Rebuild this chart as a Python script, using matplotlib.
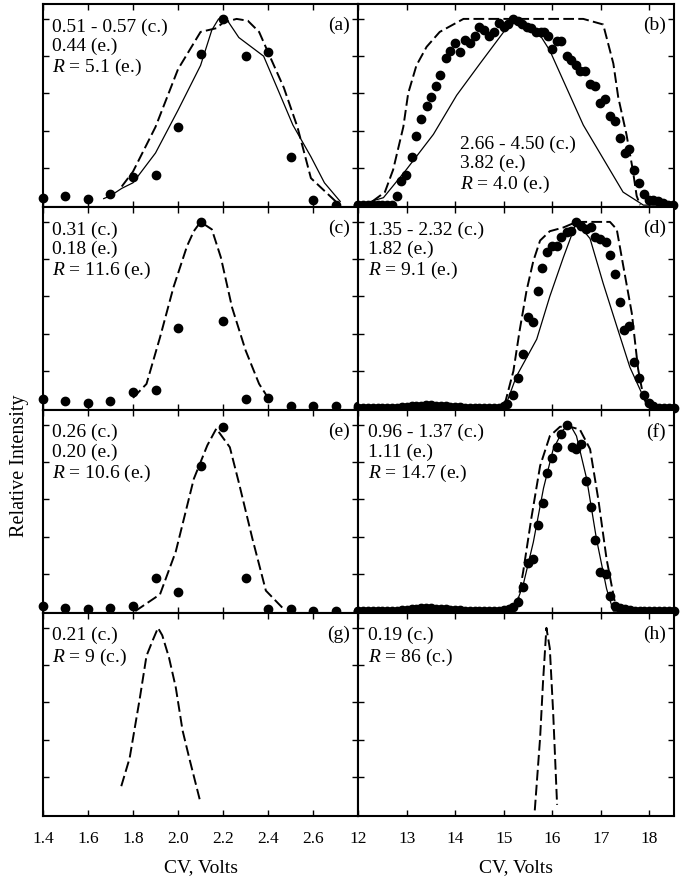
import matplotlib
matplotlib.use("Agg")
import numpy as np
import matplotlib.pyplot as plt

plt.rcParams['font.family'] = ['Liberation Serif', 'DejaVu Serif']
plt.rcParams['mathtext.fontset'] = 'custom'
plt.rcParams['mathtext.rm'] = 'Liberation Serif'
plt.rcParams['mathtext.it'] = 'Liberation Serif:italic'

# ---- panel (a) ----
aDotsX = [1.4, 1.5, 1.6, 1.7, 1.8, 1.9, 2.0, 2.1, 2.2, 2.3, 2.4, 2.5, 2.6, 2.7, 2.8]
aDotsY = [0.04, 0.05, 0.035, 0.06, 0.15, 0.16, 0.42, 0.81, 1.0, 0.80, 0.82, 0.26, 0.03, 0.0, 0.0]
aSolidX = [1.67, 1.7, 1.75, 1.8, 1.9, 2.0, 2.1, 2.15, 2.18, 2.22, 2.27, 2.38, 2.44, 2.51, 2.59, 2.65, 2.72]
aSolidY = [0.035, 0.05, 0.09, 0.12, 0.28, 0.51, 0.75, 0.94, 1.0, 0.99, 0.90, 0.80, 0.63, 0.43, 0.26, 0.12, 0.02]
aDashX = [1.75, 1.8, 1.9, 2.0, 2.1, 2.17, 2.2, 2.26, 2.31, 2.36, 2.4, 2.47, 2.53, 2.59, 2.7]
aDashY = [0.10, 0.18, 0.42, 0.73, 0.93, 0.95, 0.98, 1.0, 0.99, 0.93, 0.82, 0.63, 0.42, 0.145, 0.02]

# ---- panel (b) ----
bDotsX = [12.0, 12.1, 12.2, 12.3, 12.4, 12.5, 12.6, 12.7, 12.79, 12.89, 12.99, 13.1, 13.2, 13.29,
          13.41, 13.5, 13.6, 13.68, 13.81, 13.89, 14.0, 14.1, 14.2, 14.3, 14.4, 14.5, 14.6, 14.7,
          14.8, 14.9, 15.0, 15.09, 15.2, 15.29, 15.37, 15.47, 15.57, 15.66, 15.76, 15.84, 15.92,
          16.0, 16.09, 16.19, 16.3, 16.38, 16.48, 16.57, 16.67, 16.78, 16.88, 16.98, 17.09, 17.19,
          17.29, 17.39, 17.5, 17.59, 17.69, 17.79, 17.89, 18.0, 18.08, 18.19, 18.29, 18.39, 18.49]
bDotsY = [0.0, 0.0, 0.0, 0.0, 0.0, 0.0, 0.0, 0.0, 0.05, 0.13, 0.16, 0.26, 0.37, 0.46,
          0.53, 0.58, 0.64, 0.70, 0.79, 0.83, 0.87, 0.82, 0.885, 0.87, 0.91, 0.955, 0.94, 0.91,
          0.93, 0.98, 0.955, 0.97, 1.0, 0.99, 0.97, 0.955, 0.95, 0.93, 0.93, 0.93, 0.91,
          0.84, 0.88, 0.88, 0.80, 0.78, 0.75, 0.72, 0.72, 0.65, 0.64, 0.55, 0.57, 0.48,
          0.45, 0.36, 0.28, 0.30, 0.19, 0.12, 0.06, 0.03, 0.03, 0.02, 0.01, 0.0, 0.0]
bSolidX = [12.0, 12.52, 12.99, 13.55, 14.03, 14.51, 15.2, 15.78, 15.95, 16.64, 17.46, 17.88, 18.5]
bSolidY = [0.0, 0.04, 0.19, 0.38, 0.59, 0.76, 1.0, 0.90, 0.83, 0.43, 0.07, 0.0, 0.0]
bDashX = [12.0, 12.24, 12.55, 12.72, 12.93, 13.03, 13.2, 13.41, 13.68, 14.1, 14.17, 16.64, 17.05,
          17.26, 17.36, 17.53, 17.66, 17.74, 17.81]
bDashY = [0.0, 0.01, 0.07, 0.19, 0.42, 0.60, 0.75, 0.85, 0.93, 0.99, 1.0, 1.0, 0.97,
          0.76, 0.58, 0.38, 0.19, 0.05, 0.0]

# ---- panel (c) ----
cDotsX = [1.4, 1.5, 1.6, 1.7, 1.8, 1.9, 2.0, 2.1, 2.2, 2.3, 2.4, 2.5, 2.6, 2.7, 2.8]
cDotsY = [0.05, 0.04, 0.025, 0.04, 0.085, 0.10, 0.43, 1.0, 0.47, 0.05, 0.055, 0.01, 0.01, 0.01, 0.01]
cDashX = [1.8, 1.86, 1.92, 1.98, 2.04, 2.07, 2.1, 2.15, 2.19, 2.24, 2.3, 2.36, 2.4]
cDashY = [0.055, 0.13, 0.38, 0.65, 0.87, 0.95, 1.0, 0.96, 0.81, 0.54, 0.31, 0.13, 0.055]

# ---- panel (d) ----
dDotsX = [12.0, 12.1, 12.2, 12.3, 12.4, 12.5, 12.6, 12.7, 12.8, 12.9, 13.0, 13.1, 13.2, 13.3,
          13.4, 13.5, 13.6, 13.7, 13.8, 13.9, 14.0, 14.1, 14.2, 14.3, 14.4, 14.5, 14.6, 14.7,
          14.8, 14.9, 15.0, 15.06, 15.2, 15.3, 15.39, 15.5, 15.6, 15.7, 15.79, 15.9, 16.0, 16.09,
          16.19, 16.3, 16.38, 16.5, 16.59, 16.69, 16.79, 16.89, 16.99, 17.1, 17.2, 17.3, 17.4,
          17.48, 17.59, 17.69, 17.79, 17.89, 18.0, 18.08, 18.2, 18.3, 18.4, 18.5]
dDotsY = [0.0, 0.0, 0.0, 0.0, 0.0, 0.0, 0.0, 0.0, 0.0, 0.005, 0.005, 0.01, 0.01, 0.012,
          0.015, 0.015, 0.012, 0.01, 0.01, 0.008, 0.005, 0.005, 0.003, 0.0, 0.0, 0.0, 0.0, 0.0,
          0.0, 0.0, 0.01, 0.02, 0.07, 0.16, 0.29, 0.49, 0.46, 0.63, 0.75, 0.84, 0.87, 0.87,
          0.92, 0.945, 0.95, 1.0, 0.98, 0.96, 0.97, 0.92, 0.91, 0.89, 0.82, 0.72, 0.57,
          0.42, 0.44, 0.25, 0.16, 0.07, 0.03, 0.01, 0.0, 0.0, 0.0, 0.0]
dSolidX = [12.0, 15.02, 15.26, 15.68, 15.95, 16.23, 16.5, 16.78, 17.05, 17.33, 17.6, 17.81, 17.95, 18.5]
dSolidY = [0.0, 0.0, 0.17, 0.37, 0.60, 0.81, 1.0, 0.91, 0.67, 0.44, 0.22, 0.10, 0.02, 0.0]
dDashX = [15.02, 15.2, 15.33, 15.47, 15.61, 15.75, 15.95, 16.23, 16.5, 17.19, 17.33, 17.46,
          17.64, 17.77, 17.88, 17.95]
dDashY = [0.02, 0.2, 0.42, 0.63, 0.79, 0.90, 0.95, 0.97, 1.0, 1.0, 0.96, 0.77,
          0.51, 0.21, 0.06, 0.02]

# ---- panel (e) ----
eDotsX = [1.4, 1.5, 1.6, 1.7, 1.8, 1.9, 2.0, 2.1, 2.2, 2.3, 2.4, 2.5, 2.6, 2.7, 2.8]
eDotsY = [0.03, 0.015, 0.01, 0.015, 0.03, 0.18, 0.10, 0.78, 0.99, 0.18, 0.01, 0.01, 0.0, 0.0, 0.0]
eDashX = [1.81, 1.92, 1.99, 2.07, 2.13, 2.17, 2.23, 2.27, 2.33, 2.39, 2.47]
eDashY = [0.0, 0.09, 0.32, 0.71, 0.89, 0.98, 0.88, 0.69, 0.39, 0.11, 0.01]

# ---- panel (f) ----
fDotsX = [12.0, 12.1, 12.2, 12.3, 12.4, 12.5, 12.6, 12.7, 12.8, 12.9, 13.0, 13.1, 13.2, 13.3,
          13.4, 13.5, 13.6, 13.7, 13.8, 13.9, 14.0, 14.1, 14.2, 14.3, 14.4, 14.5, 14.6, 14.7,
          14.8, 14.9, 15.0, 15.1, 15.2, 15.3, 15.4, 15.5, 15.6, 15.71, 15.8, 15.9, 16.0, 16.1,
          16.19, 16.3, 16.4, 16.5, 16.59, 16.69, 16.79, 16.89, 16.99, 17.1, 17.2, 17.3, 17.4,
          17.5, 17.6, 17.7, 17.8, 17.9, 18.0, 18.1, 18.2, 18.3, 18.4, 18.5]
fDotsY = [0.0, 0.0, 0.0, 0.0, 0.0, 0.0, 0.0, 0.0, 0.0, 0.005, 0.005, 0.01, 0.012, 0.015,
          0.015, 0.015, 0.012, 0.01, 0.01, 0.008, 0.005, 0.005, 0.003, 0.0, 0.0, 0.0, 0.0, 0.0,
          0.0, 0.0, 0.005, 0.01, 0.02, 0.05, 0.13, 0.26, 0.28, 0.46, 0.58, 0.74, 0.82, 0.88,
          0.95, 1.0, 0.88, 0.87, 0.90, 0.70, 0.56, 0.38, 0.21, 0.20, 0.08, 0.03, 0.015,
          0.01, 0.005, 0.0, 0.0, 0.0, 0.0, 0.0, 0.0, 0.0, 0.0, 0.0]
fSolidX = [12.0, 15.2, 15.4, 15.61, 15.82, 16.02, 16.23, 16.37, 16.5, 16.71, 16.91, 17.12, 17.26, 18.5]
fSolidY = [0.0, 0.0, 0.14, 0.37, 0.66, 0.87, 0.975, 1.0, 0.94, 0.71, 0.39, 0.12, 0.0, 0.0]
fDashX = [15.27, 15.4, 15.57, 15.75, 15.95, 16.16, 16.37, 16.57, 16.78, 16.95, 17.12, 17.3, 17.36]
fDashY = [0.02, 0.21, 0.50, 0.78, 0.94, 0.99, 0.99, 0.975, 0.87, 0.60, 0.28, 0.035, 0.01]

# ---- panel (g) ----
gDashX = [1.748, 1.785, 1.83, 1.86, 1.89, 1.911, 1.93, 1.96, 1.99, 2.02, 2.05, 2.096]
gDashY = [0.15, 0.30, 0.62, 0.85, 0.94, 1.0, 0.96, 0.84, 0.68, 0.45, 0.30, 0.08]

# ---- panel (h) ----
hDashX = [15.64, 15.75, 15.81, 15.88, 15.95, 16.02, 16.1]
hDashY = [0.02, 0.41, 0.71, 1.0, 0.89, 0.54, 0.05]

# annotations
aText = "0.51 - 0.57 (c.)\n0.44 (e.)\n$R$ = 5.1 (e.)"
bText = "2.66 - 4.50 (c.)\n3.82 (e.)\n$R$ = 4.0 (e.)"
cText = "0.31 (c.)\n0.18 (e.)\n$R$ = 11.6 (e.)"
dText = "1.35 - 2.32 (c.)\n1.82 (e.)\n$R$ = 9.1 (e.)"
eText = "0.26 (c.)\n0.20 (e.)\n$R$ = 10.6 (e.)"
fText = "0.96 - 1.37 (c.)\n1.11 (e.)\n$R$ = 14.7 (e.)"
gText = "0.21 (c.)\n$R$ = 9 (c.)"
hText = "0.19 (c.)\n$R$ = 86 (c.)"

leftTicks = [1.4, 1.6, 1.8, 2.0, 2.2, 2.4, 2.6]
leftTickLabels = ["1.4", "1.6", "1.8", "2.0", "2.2", "2.4", "2.6"]
rightTicks = [12, 13, 14, 15, 16, 17, 18]
rightTickLabels = ["12", "13", "14", "15", "16", "17", "18"]

panels = [
    dict(tag="(a)", dots=(aDotsX, aDotsY), solid=(aSolidX, aSolidY), dash=(aDashX, aDashY), text=aText, textpos=(0.03, 0.935)),
    dict(tag="(b)", dots=(bDotsX, bDotsY), solid=(bSolidX, bSolidY), dash=(bDashX, bDashY), text=bText, textpos=(0.322, 0.355)),
    dict(tag="(c)", dots=(cDotsX, cDotsY), solid=None, dash=(cDashX, cDashY), text=cText, textpos=(0.03, 0.935)),
    dict(tag="(d)", dots=(dDotsX, dDotsY), solid=(dSolidX, dSolidY), dash=(dDashX, dDashY), text=dText, textpos=(0.03, 0.935)),
    dict(tag="(e)", dots=(eDotsX, eDotsY), solid=None, dash=(eDashX, eDashY), text=eText, textpos=(0.03, 0.935)),
    dict(tag="(f)", dots=(fDotsX, fDotsY), solid=(fSolidX, fSolidY), dash=(fDashX, fDashY), text=fText, textpos=(0.03, 0.935)),
    dict(tag="(g)", dots=None, solid=None, dash=(gDashX, gDashY), text=gText, textpos=(0.03, 0.935)),
    dict(tag="(h)", dots=None, solid=None, dash=(hDashX, hDashY), text=hText, textpos=(0.03, 0.935)),
]

fig = plt.figure(figsize=(6.81, 8.78), dpi=100)
gs = fig.add_gridspec(4, 2, left=0.063, right=0.989, top=0.9943, bottom=0.0695, wspace=0, hspace=0)

for i, p in enumerate(panels):
    row, col = i // 2, i % 2
    ax = fig.add_subplot(gs[row, col])
    if p["dash"] is not None:
        ax.plot(p["dash"][0], p["dash"][1], color="black", lw=1.4, dashes=(5.5, 2.2), zorder=3)
    if p["solid"] is not None:
        ax.plot(p["solid"][0], p["solid"][1], color="black", lw=0.9, zorder=3)
    if p["dots"] is not None:
        ax.plot(p["dots"][0], p["dots"][1], "o", color="black", ms=6, clip_on=False, zorder=4)
    ax.text(p["textpos"][0], p["textpos"][1], p["text"], transform=ax.transAxes, ha="left", va="top",
            fontsize=14, linespacing=1.13)
    ax.text(0.975, 0.94, p["tag"], transform=ax.transAxes, ha="right", va="top", fontsize=14)

    if col == 0:
        ax.set_xlim(1.4, 2.8)
        ax.set_xticks(leftTicks)
        ax.set_xticklabels(leftTickLabels)
    else:
        ax.set_xlim(12, 18.5)
        ax.set_xticks(rightTicks)
        ax.set_xticklabels(rightTickLabels)
    ax.set_ylim(-0.01, 1.08)
    ax.set_yticks([0.2, 0.4, 0.6, 0.8, 1.0])
    ax.set_yticklabels([])
    ax.tick_params(direction="in", top=True, right=True, length=4, width=1.0, labelsize=12.5, pad=10)
    for s in ax.spines.values():
        s.set_linewidth(1.5)
    if row < 3:
        ax.set_xticklabels([])
    else:
        ax.set_xlabel("CV, Volts", fontsize=14, labelpad=9)

fig.text(0.029, 0.47, "Relative Intensity", rotation=90, ha="center", va="center", fontsize=14.5)

plt.savefig("out.png", dpi=100)
